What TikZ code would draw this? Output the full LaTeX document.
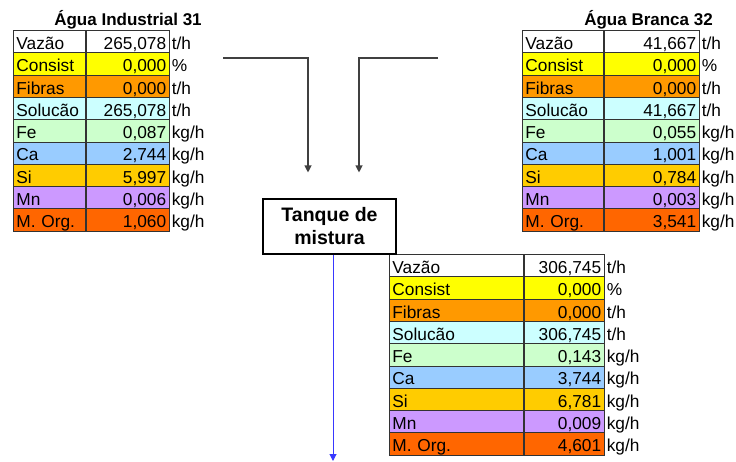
\documentclass[tikz,border=0pt]{standalone}
\usepackage{fontspec}
\setmainfont{Liberation Sans}
\usetikzlibrary{arrows.meta,positioning}

\definecolor{cConsist}{HTML}{FFFF00}
\definecolor{cFibras}{HTML}{FF9900}
\definecolor{cSolucao}{HTML}{CCFFFF}
\definecolor{cFe}{HTML}{CCFFCC}
\definecolor{cCa}{HTML}{99CCFF}
\definecolor{cSi}{HTML}{FFCC00}
\definecolor{cMn}{HTML}{CC99FF}
\definecolor{cMOrg}{HTML}{FF6600}
\definecolor{mixblue}{HTML}{3838FF}

\begin{document}
\begin{tikzpicture}[
		x=1pt, y=-1pt,
		cell/.style={draw=black!80, line width=0.8pt, anchor=north west, minimum height=22.3pt,
			inner xsep=3pt, inner ysep=0pt, text height=17pt, text depth=1.3pt,
			font=\fontsize{17.3}{19}\selectfont},
		labcell/.style={cell, text width=#1, align=left},
		valcell/.style={cell, text width=#1, align=right},
		unit/.style={inner xsep=2pt, inner ysep=0pt, text height=17pt, text depth=1.3pt,
			font=\fontsize{17.3}{19}\selectfont},
		title/.style={inner sep=0pt, font=\bfseries\fontsize{17}{19}\selectfont},
		tank/.style={draw, line width=1.1pt, fill=white, minimum width=133pt, minimum height=55pt,
			align=center, font=\bfseries\fontsize{19.5}{23}\selectfont},
		flow/.style={draw=black!75, line width=1.1pt, -{Triangle[width=7pt,length=7pt]}},
		mixflow/.style={draw=mixblue, line width=1pt, -{Triangle[width=7pt,length=7pt]}},
	]
		\useasboundingbox (0,0) rectangle (736,461);

		\node (ind title) [title, anchor=base] at (128,25) {Água Industrial 31};
		\node (bra title) [title, anchor=base east] at (713,25) {Água Branca 32};

		% one row per property, columns: industrial / branca / mistura
		\foreach \lab/\col/\un/\vi/\vb/\vm [count=\i] in {
			Vazão/white/{t/h}/{265,078}/{41,667}/{306,745},
			Consist/cConsist/{\%}/{0,000}/{0,000}/{0,000},
			Fibras/cFibras/{t/h}/{0,000}/{0,000}/{0,000},
			Solucão/cSolucao/{t/h}/{265,078}/{41,667}/{306,745},
			Fe/cFe/{kg/h}/{0,087}/{0,055}/{0,143},
			Ca/cCa/{kg/h}/{2,744}/{1,001}/{3,744},
			Si/cSi/{kg/h}/{5,997}/{0,784}/{6,781},
			Mn/cMn/{kg/h}/{0,006}/{0,003}/{0,009},
			M. Org./cMOrg/{kg/h}/{1,060}/{3,541}/{4,601}%
		} {
			\pgfmathsetmacro\dy{(\i-1)*22.3}
			\node (ind lab \i) [labcell=66pt, fill=\col] at (13,30+\dy) {\lab};
			\node (ind val \i) [valcell=77pt, fill=\col, right=0pt of ind lab \i] {\vi};
			\node (ind unit \i) [unit, right=0pt of ind val \i] {\un};

			\node (bra lab \i) [labcell=75pt, fill=\col] at (522,30+\dy) {\lab};
			\node (bra val \i) [valcell=89pt, fill=\col, right=0pt of bra lab \i] {\vb};
			\node (bra unit \i) [unit, right=0pt of bra val \i] {\un};

			\node (mix lab \i) [labcell=128pt, fill=\col] at (389,254+\dy) {\lab};
			\node (mix val \i) [valcell=74pt, fill=\col, right=0pt of mix lab \i] {\vm};
			\node (mix unit \i) [unit, right=0pt of mix val \i] {\un};
		}

		\node (tanque) [tank] at (329.5,226.5) {Tanque de\\mistura};

		\coordinate (ind out) at (223,58);
		\coordinate (bra out) at (438,58);
		\coordinate (mix out) at (333,461);

		\draw[flow] (ind out) -| ([xshift=-21.5pt,yshift=26pt]tanque.north);
		\draw[flow] (bra out) -| ([xshift=29.5pt,yshift=26pt]tanque.north);
		\draw[mixflow] (tanque.south -| mix out) -- (mix out);
	\end{tikzpicture}
\end{document}
